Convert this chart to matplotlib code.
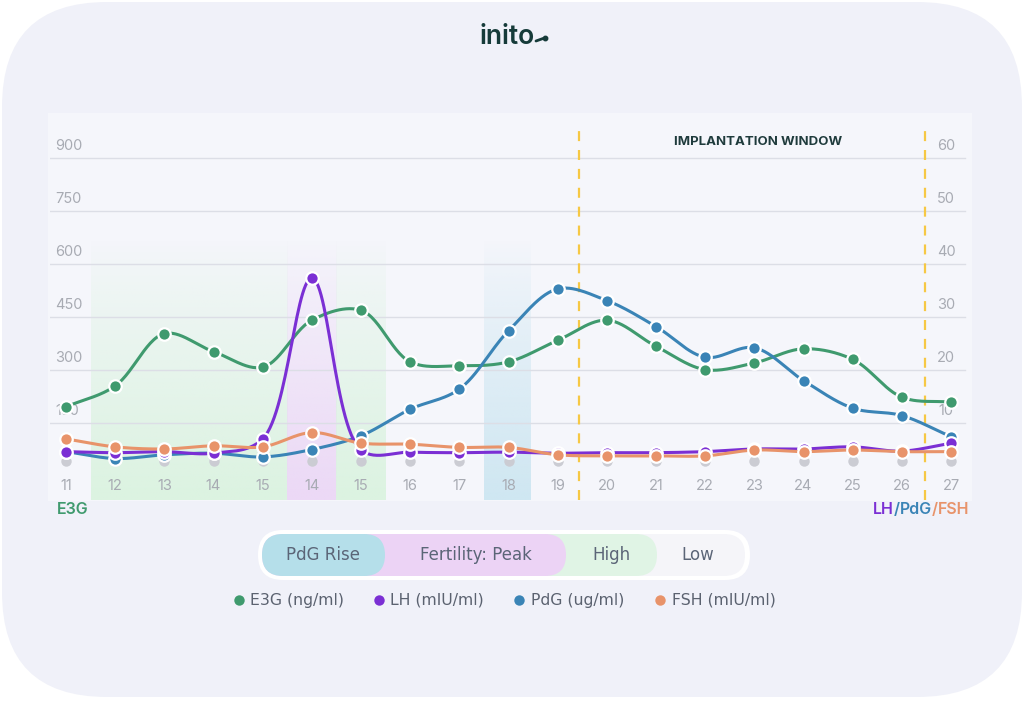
import numpy as np
import matplotlib
matplotlib.use("Agg")
import matplotlib.pyplot as plt
from matplotlib.patches import FancyBboxPatch, Rectangle
from matplotlib.colors import to_rgb

plt.rcParams['font.family'] = ['Inter', 'DejaVu Sans']

# ---------------- data ----------------
day_labels = ["11", "12", "13", "14", "15", "14", "15", "16", "17", "18", "19",
              "20", "21", "22", "23", "24", "25", "26", "27"]
e3g = [196, 255, 403, 352, 308, 441, 469, 323, 312, 323, 384, 441, 367, 301, 320, 360, 330, 223, 209]
lh = [4.6, 4.4, 4.6, 4.3, 7.0, 37.3, 4.9, 4.5, 4.4, 4.5, 4.3, 4.4, 4.4, 4.6, 5.1, 5.1, 5.5, 4.7, 6.2]
pdg = [4.6, 3.3, 4.0, 4.3, 3.6, 5.0, 7.6, 12.6, 16.4, 27.4, 35.3, 33.1, 28.2, 22.4, 24.2, 18.0, 12.8, 11.4, 7.4]
fsh = [7.0, 5.5, 5.1, 5.7, 5.5, 8.2, 6.2, 6.0, 5.4, 5.4, 4.0, 3.8, 3.8, 3.8, 4.9, 4.6, 4.9, 4.6, 4.6]
baseline_value = 2.8  # grey "no reading" dots (right scale)

left_ticks = [150, 300, 450, 600, 750, 900]
right_ticks = [10, 20, 30, 40, 50, 60]

# bands: (start index, end index, colour)
bands = [(0.5, 4.5, "#dcf3e1"), (4.5, 5.5, "#ecd9f6"), (5.5, 6.5, "#dcf3e1"), (8.5, 9.45, "#cfe7f2")]
implant_window = (10.43, 17.47)

legend_pills = ["PdG Rise", "Fertility: Peak", "High", "Low"]
series_names = ["E3G (ng/ml)", "LH (mIU/ml)", "PdG (ug/ml)", "FSH (mIU/ml)"]

C_E3G = "#3f9a6e"
C_LH = "#7b2fd4"
C_PDG = "#3a84b6"
C_FSH = "#e8936a"
C_GRID = "#dcdee6"
C_TICK = "#a8abb3"
WIDE = ['DejaVu Sans']

W, H = 1024, 701
fig = plt.figure(figsize=(W / 100, H / 100), dpi=100)
fig.patch.set_facecolor("white")

# overlay axes in pixel coords
ov = fig.add_axes([0, 0, 1, 1])
ov.set_xlim(0, W)
ov.set_ylim(H, 0)
ov.axis("off")
ov.add_patch(FancyBboxPatch((2, 2), W - 4, H - 6, boxstyle="round,pad=0,rounding_size=105",
                            fc="#f0f1f9", ec="none", zorder=0))
ov.add_patch(Rectangle((48, 113), 924, 388, fc="#f5f6fb", ec="none", zorder=0.5))

# logo
ov.text(507, 37, "inito", fontsize=19, fontweight="semibold", color="#163b3a",
        ha="center", va="center", zorder=5)
ov.plot([536, 543], [41, 38.5], color="#163b3a", lw=2.0, solid_capstyle="round", zorder=5)
ov.plot([545], [38], "o", color="#163b3a", ms=3.2, zorder=5)

# ---------------- main chart axes ----------------
x0px, dx = 66.0, 49.17
ax_l, ax_r, ax_t, ax_b = 50, 970, 115, 500
ax = fig.add_axes([ax_l / W, (H - ax_b) / H, (ax_r - ax_l) / W, (ax_b - ax_t) / H])
ax.patch.set_alpha(0)
ax.set_xlim((ax_l - x0px) / dx, (ax_r - x0px) / dx)
k = 750 / 265.0  # units per px on left axis
zero_px = 476
ax.set_ylim((zero_px - ax_b) * k, (zero_px - ax_t) * k)
for s in ax.spines.values():
    s.set_visible(False)
ax.set_xticks([])
ax.set_yticks([])

ax2 = ax.twinx()
ax2.set_ylim(ax.get_ylim()[0] / 15, ax.get_ylim()[1] / 15)
for s in ax2.spines.values():
    s.set_visible(False)
ax2.set_yticks([])

x = np.arange(len(day_labels))
ylo, yhi = ax.get_ylim()

# gradient bands
grad_top = 670
for (a, b, col) in bands:
    r, g, bb = to_rgb(col)
    n = 64
    alpha = np.linspace(1, 0, n) ** 0.8
    img = np.zeros((n, 1, 4))
    img[:, 0, 0], img[:, 0, 1], img[:, 0, 2] = r, g, bb
    img[:, 0, 3] = alpha
    ax.imshow(img, extent=(a, b, ylo, grad_top), origin="lower", aspect="auto",
              interpolation="bilinear", zorder=0.5)
ax.set_xlim((ax_l - x0px) / dx, (ax_r - x0px) / dx)
ax.set_ylim(ylo, yhi)

# grid lines
x_grid_end = (965 - x0px) / dx
for v in left_ticks:
    ax.plot([ax.get_xlim()[0], x_grid_end], [v, v], color=C_GRID, lw=1, zorder=1)

# tick labels
lab_off = 12 * k
for v in left_ticks:
    ax.text((55 - x0px) / dx, v + lab_off, str(v), color=C_TICK, fontsize=10.5,
            ha="left", va="center", zorder=2)
for v, rv in zip(left_ticks, right_ticks):
    ax.text((946 - x0px) / dx, v + lab_off, str(rv), color=C_TICK, fontsize=10.5,
            ha="center", va="center", zorder=2)
for i, lab in enumerate(day_labels):
    ax.text(i, (zero_px - 486) * k, lab, color=C_TICK, fontsize=10.5, ha="center", va="center", zorder=2)

# implantation window
for xv in implant_window:
    ax.plot([xv, xv], [ylo, (zero_px - 130) * k], color="#f6c844", lw=1.6,
            dashes=(4.5, 4), zorder=1.5)
ax.text((758 - x0px) / dx, (zero_px - 142) * k, "IMPLANTATION WINDOW", fontsize=9.5,
        fontweight="bold", color="#1f3b3c", ha="center", va="center", zorder=2)


def centripetal_cr(xs, ys, sx, sy, n=30, alpha=0.5):
    """Centripetal Catmull-Rom through the data points, computed in pixel space."""
    P = np.column_stack([np.asarray(xs, float) * sx, np.asarray(ys, float) * sy])
    P = np.vstack([2 * P[0] - P[1], P, 2 * P[-1] - P[-2]])
    outs = []
    for i in range(1, len(P) - 2):
        p0, p1, p2, p3 = P[i - 1], P[i], P[i + 1], P[i + 2]
        t0 = 0.0
        t1 = t0 + np.linalg.norm(p1 - p0) ** alpha + 1e-9
        t2 = t1 + np.linalg.norm(p2 - p1) ** alpha + 1e-9
        t3 = t2 + np.linalg.norm(p3 - p2) ** alpha + 1e-9
        t = np.linspace(t1, t2, n)[:, None]
        a1 = (t1 - t) / (t1 - t0) * p0 + (t - t0) / (t1 - t0) * p1
        a2 = (t2 - t) / (t2 - t1) * p1 + (t - t1) / (t2 - t1) * p2
        a3 = (t3 - t) / (t3 - t2) * p2 + (t - t2) / (t3 - t2) * p3
        b1 = (t2 - t) / (t2 - t0) * a1 + (t - t0) / (t2 - t0) * a2
        b2 = (t3 - t) / (t3 - t1) * a2 + (t - t1) / (t3 - t1) * a3
        c = (t2 - t) / (t2 - t1) * b1 + (t - t1) / (t2 - t1) * b2
        outs.append(c)
    C = np.vstack(outs)
    return C[:, 0] / sx, C[:, 1] / sy


# grey baseline dots
ax2.plot(x, [baseline_value] * len(x), "o", color="#cbccd3", ms=7.5, mec="none", zorder=2)

mk = dict(marker="o", ms=9, mec="white", mew=1.6, ls="none")
px_x = dx
sx_, sy_ = centripetal_cr(x, e3g, px_x, 1 / k)
ax.plot(sx_, sy_, color=C_E3G, lw=2.2, zorder=3)
ax.plot(x, e3g, color=C_E3G, zorder=4, **mk)

for vals, col, z in [(pdg, C_PDG, 3), (lh, C_LH, 4), (fsh, C_FSH, 5)]:
    sx_, sy_ = centripetal_cr(x, vals, px_x, 15 / k)
    ax2.plot(sx_, sy_, color=col, lw=2.2, zorder=z)
    ax2.plot(x, vals, color=col, zorder=z + 0.5, **mk)

# axis name labels
ov.text(57, 509, "E3G", color=C_E3G, fontsize=11.5, fontweight="semibold", ha="left", va="center")
t = ov.text(873, 509, "LH", color=C_LH, fontsize=11.5, fontweight="semibold", ha="left", va="center")
for txt, col in [("/", C_PDG), ("PdG", C_PDG), ("/", C_FSH), ("FSH", C_FSH)]:
    t = ov.annotate(txt, xycoords=t, xy=(1, 0), va="bottom", ha="left", color=col,
                    fontsize=11.5, fontweight="semibold")

# pill legend
ov.add_patch(FancyBboxPatch((258, 530), 492, 50, boxstyle="round,pad=0,rounding_size=25",
                            fc="white", ec="none", zorder=2))
pills = [(558, 745, "#f5f5f9"), (353, 657, "#e0f4e5"), (262, 566, "#ecd3f5"), (262, 385, "#b5dfea")]
for (a, b, col) in pills:
    ov.add_patch(FancyBboxPatch((a, 534), b - a, 42,
                                boxstyle="round,pad=0,rounding_size=21", fc=col, ec="none", zorder=3))
for lab, cx in zip(legend_pills, [323, 476, 611, 698]):
    ov.text(cx, 555, lab, fontsize=12, color="#5b6577", ha="center", va="center", zorder=4,
            family=WIDE)

# series legend
for name, col, dx_, tx in zip(series_names, [C_E3G, C_LH, C_PDG, C_FSH],
                              [239, 379, 519, 660], [250, 390, 531, 672]):
    ov.plot([dx_], [600], "o", color=col, ms=7.5, mec="none", zorder=4)
    ov.text(tx, 600, name, fontsize=11.3, color="#5b6270", ha="left", va="center", zorder=4,
            family=WIDE)

fig.savefig("out.png", dpi=100, facecolor="white")
